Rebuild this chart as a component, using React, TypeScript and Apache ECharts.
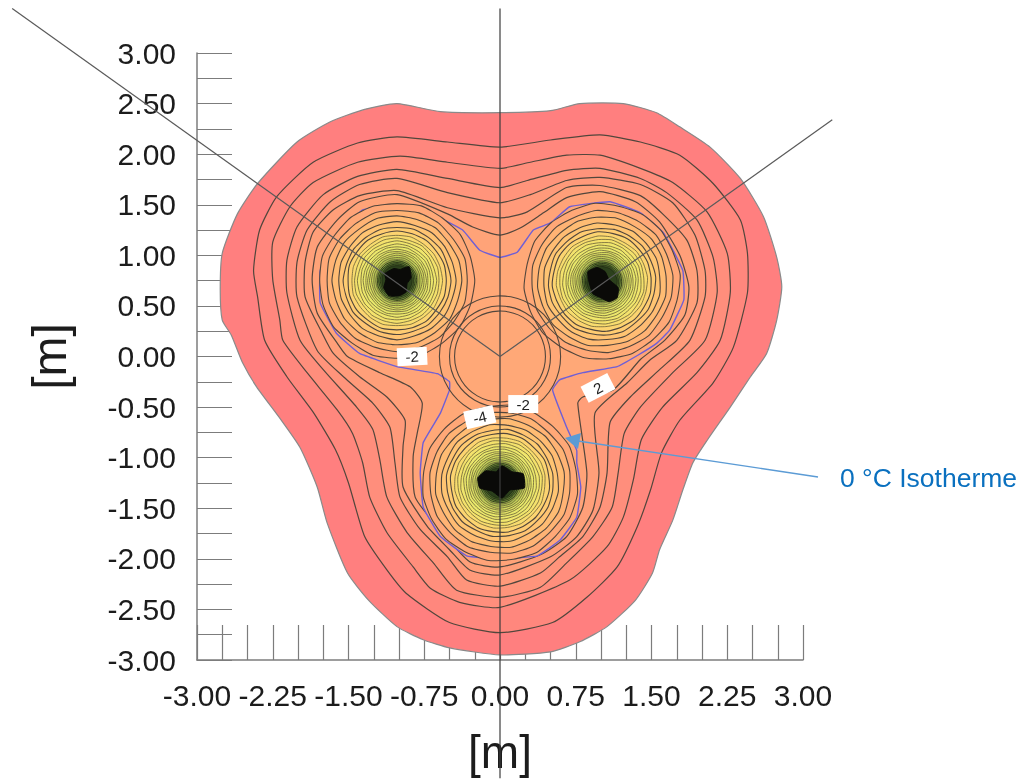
import React, { useEffect, useRef } from "react";
import * as echarts from "echarts";

type P = number[];

// Tick labels that are printed; the axes tick every 0.25 m
const xTickLabels = ["-3.00", "-2.25", "-1.50", "-0.75", "0.00", "0.75", "1.50", "2.25", "3.00"];
const yTickLabels = ["-3.00", "-2.50", "-2.00", "-1.50", "-1.00", "-0.50", "0.00", "0.50", "1.00", "1.50", "2.00", "2.50", "3.00"];

// Merged contours in metres, outermost first
const contour0: P[] = [[0,2.41],[0.5,2.43],[0.79,2.5],[1.22,2.5],[1.55,2.41],[1.78,2.27],[2.08,2.07],[2.38,1.76],[2.61,1.38],[2.74,0.98],[2.79,0.69],[2.74,0.36],[2.64,0.03],[2.48,-0.2],[2.28,-0.5],[2.05,-0.83],[1.91,-1.05],[1.81,-1.32],[1.71,-1.62],[1.58,-1.91],[1.51,-2.14],[1.34,-2.41],[1.06,-2.67],[0.79,-2.82],[0.5,-2.92],[0,-2.95],[-0.5,-2.88],[-0.76,-2.8],[-1.02,-2.67],[-1.3,-2.41],[-1.51,-2.14],[-1.71,-1.65],[-1.81,-1.29],[-1.98,-0.9],[-2.18,-0.61],[-2.41,-0.3],[-2.55,-0.06],[-2.66,0.21],[-2.75,0.36],[-2.77,0.66],[-2.75,1.02],[-2.6,1.41],[-2.4,1.71],[-2.01,2.12],[-1.68,2.32],[-1.35,2.44],[-1.02,2.5],[-0.59,2.42]];
const contour1: P[] = [[0,2.07],[0.5,2.14],[0.99,2.19],[1.39,2.12],[1.78,1.99],[2.11,1.71],[2.38,1.35],[2.45,1.02],[2.45,0.63],[2.31,0.09],[2.11,-0.26],[1.78,-0.63],[1.6,-0.95],[1.49,-1.32],[1.36,-1.68],[1.16,-2.08],[0.86,-2.38],[0.52,-2.63],[0,-2.73],[-0.5,-2.63],[-0.93,-2.34],[-1.12,-2.11],[-1.34,-1.78],[-1.5,-1.25],[-1.63,-0.92],[-1.85,-0.55],[-2.11,-0.2],[-2.33,0.16],[-2.4,0.59],[-2.44,0.85],[-2.38,1.25],[-2.21,1.58],[-1.85,1.92],[-1.41,2.11],[-1.02,2.17],[-0.52,2.12]];
const contour2: P[] = [[0,1.86],[0.3,1.92],[0.66,1.99],[0.99,1.99],[1.39,1.86],[1.71,1.72],[2.05,1.43],[2.25,1.02],[2.28,0.63],[2.18,0.16],[1.95,-0.16],[1.61,-0.5],[1.4,-0.82],[1.32,-1.22],[1.22,-1.59],[1.06,-1.88],[0.69,-2.21],[0,-2.48],[-0.4,-2.43],[-0.69,-2.29],[-0.86,-2.08],[-1.12,-1.74],[-1.29,-1.39],[-1.36,-1.05],[-1.46,-0.76],[-1.61,-0.53],[-1.91,-0.16],[-2.15,0.16],[-2.18,0.36],[-2.25,0.76],[-2.25,1.13],[-2.08,1.48],[-1.85,1.72],[-1.41,1.92],[-0.99,1.98],[-0.52,1.92]];
const contour3: P[] = [[0,1.67],[0.27,1.74],[0.66,1.84],[0.99,1.86],[1.39,1.76],[1.65,1.62],[1.95,1.35],[2.11,0.98],[2.15,0.63],[2.03,0.16],[1.71,-0.16],[1.39,-0.5],[1.23,-0.76],[1.17,-1.15],[1.11,-1.49],[0.92,-1.78],[0.66,-2.04],[0.4,-2.28],[0,-2.38],[-0.43,-2.31],[-0.66,-2.04],[-0.92,-1.74],[-1.12,-1.39],[-1.19,-1.02],[-1.26,-0.72],[-1.42,-0.5],[-1.75,-0.13],[-1.98,0.16],[-2.11,0.63],[-2.11,0.95],[-2.01,1.28],[-1.75,1.6],[-1.41,1.78],[-1.02,1.85],[-0.52,1.76]];
const contour4: P[] = [[0,1.52],[0.3,1.6],[0.66,1.74],[0.99,1.77],[1.39,1.7],[1.71,1.52],[1.93,1.2],[2.03,0.85],[2.03,0.59],[1.88,0.16],[1.58,-0.13],[1.29,-0.4],[1.09,-0.65],[1.06,-1.15],[0.99,-1.49],[0.82,-1.78],[0.59,-1.98],[0.4,-2.14],[0,-2.27],[-0.33,-2.21],[-0.52,-1.98],[-0.79,-1.71],[-0.99,-1.39],[-1.04,-1.05],[-1.09,-0.7],[-1.26,-0.46],[-1.55,-0.2],[-1.81,0.06],[-2.01,0.59],[-2.01,0.93],[-1.91,1.25],[-1.68,1.53],[-1.39,1.7],[-1.02,1.76],[-0.52,1.62]];
const contour5: P[] = [[0,1.37],[0.27,1.43],[0.66,1.67],[0.99,1.69],[1.39,1.59],[1.61,1.41],[1.85,1.15],[1.95,0.85],[1.95,0.53],[1.75,0.16],[1.49,-0.03],[1.26,-0.26],[0.94,-0.56],[0.98,-1.15],[0.92,-1.52],[0.76,-1.78],[0.5,-1.98],[0,-2.16],[-0.3,-2.11],[-0.5,-1.91],[-0.72,-1.68],[-0.96,-1.29],[-0.96,-0.89],[-0.94,-0.63],[-1.12,-0.4],[-1.39,-0.2],[-1.65,0.03],[-1.76,0.23],[-1.93,0.59],[-1.93,0.93],[-1.85,1.23],[-1.65,1.45],[-1.39,1.59],[-1.02,1.64],[-0.52,1.47]];
const contour6: P[] = [[0,1.2],[0.2,1.27],[0.43,1.42],[0.66,1.57],[0.99,1.63],[1.34,1.53],[1.58,1.33],[1.78,1.0],[1.87,0.69],[1.83,0.41],[1.63,0.16],[1.39,-0.03],[1.12,-0.33],[0.82,-0.4],[0.77,-0.46],[0.86,-1.15],[0.82,-1.49],[0.66,-1.78],[0.4,-1.96],[0,-2.08],[-0.3,-2.03],[-0.62,-1.68],[-0.84,-1.39],[-0.86,-0.99],[-0.82,-0.76],[-0.77,-0.46],[-0.89,-0.3],[-1.19,-0.16],[-1.51,0],[-1.61,0.13],[-1.81,0.43],[-1.86,0.76],[-1.81,1.08],[-1.61,1.35],[-1.39,1.53],[-1.02,1.6],[-0.52,1.41],[-0.27,1.28]];
const isotherm0: P[] = [[0,0.98],[0.17,1.03],[0.33,1.25],[0.5,1.32],[0.69,1.48],[1.09,1.53],[1.39,1.42],[1.62,1.22],[1.81,0.85],[1.82,0.56],[1.68,0.26],[1.55,0.13],[1.36,0.01],[1.16,-0.1],[0.82,-0.16],[0.59,-0.23],[0.52,-0.33],[0.66,-0.7],[0.76,-0.93],[0.76,-1.05],[0.8,-1.29],[0.76,-1.59],[0.59,-1.82],[0.37,-1.97],[0,-2.0],[-0.33,-1.97],[-0.59,-1.78],[-0.76,-1.49],[-0.79,-1.15],[-0.76,-0.85],[-0.59,-0.56],[-0.5,-0.33],[-0.5,-0.25],[-0.62,-0.17],[-1.02,-0.1],[-1.39,0.03],[-1.62,0.23],[-1.78,0.53],[-1.78,0.85],[-1.62,1.18],[-1.36,1.45],[-1.02,1.5],[-0.66,1.4],[-0.37,1.25],[-0.2,1.05]];

// The three wells and the contour radii around each of them, in metres
const wellCentres: P[] = [[-1.02, 0.75], [1.01, 0.74], [0, -1.25]];
const wellRadii = [0.77, 0.7, 0.64, 0.58, 0.53, 0.49, 0.45, 0.42, 0.39, 0.36, 0.335, 0.31, 0.29, 0.27, 0.25, 0.23, 0.21, 0.195, 0.18, 0.165, 0.15];
const wellCoreLeft: P[] = [[-1.15,0.68],[-1.13,0.76],[-1.14,0.82],[-1.05,0.87],[-0.99,0.86],[-0.9,0.89],[-0.88,0.78],[-0.92,0.72],[-0.93,0.64],[-1.0,0.6],[-1.1,0.6]];
const wellCoreRight: P[] = [[0.87,0.84],[0.96,0.88],[1.04,0.84],[1.08,0.76],[1.17,0.68],[1.16,0.58],[1.08,0.54],[1.0,0.58],[0.92,0.62],[0.88,0.74]];
const wellCoreBottom: P[] = [[-0.22,-1.2],[-0.14,-1.13],[-0.04,-1.14],[0.02,-1.08],[0.12,-1.14],[0.23,-1.16],[0.24,-1.3],[0.1,-1.32],[0.02,-1.4],[-0.08,-1.33],[-0.2,-1.3]];

// Circles round the centre, radii in metres
const centreRadii = [0.6, 0.5, 0.45];

// Lines of the section
const guideUp: P[] = [[0, 3.44], [0, -4.17]];
const guideLeft: P[] = [[0, 0], [-4.83, 3.44]];
const guideRight: P[] = [[0, 0], [3.29, 2.34]];

// Contour value labels
const labelText = ["-2", "-4", "-2", "2"];
const labelX = [-0.87, -0.2, 0.23, 0.97];
const labelY = [0, -0.6, -0.47, -0.31];
const labelTilt = [3, 13, 0, 27];

const bandFills = ["#FF7F7F", "#FF877D", "#FF8E7C", "#FF947B", "#FF9A7A", "#FF9F79", "#FFA378", "#FFA877"];
const wellFills = ["#FFA877", "#FFB374", "#FFBC73", "#FFC472", "#FFCC71", "#FCD470", "#F8DC6E", "#F4E26C", "#F0E66C", "#ECE86C", "#E8E86A", "#E4E668", "#DCE264", "#D2DA5E", "#C2D058", "#ACBE50", "#94A848", "#78903E", "#5C7634", "#445C28", "#2C401C"];
// Slight polygonal unevenness of the drawn rings
const ringShape = [1, 0.985, 1.01, 0.99, 1.015, 0.98, 1.005, 1.01, 0.985, 1.015, 0.99, 1, 1.015, 0.98, 1.01, 0.995, 1.01, 0.985, 1.005, 0.99];
const LINE = "#52463c";
const FONT = "'Liberation Sans', Arial, sans-serif";

function polygonSeries(points: P[], fill: string, stroke: string, lineWidth: number, smooth: number) {
  return {
    type: "custom",
    coordinateSystem: "cartesian2d",
    clip: false,
    silent: true,
    encode: { x: 0, y: 1 },
    data: points,
    renderItem: (params: any, api: any) =>
      params.dataIndex === 0
        ? {
            type: "polygon",
            shape: { points: points.map((q) => api.coord(q)), smooth },
            style: { fill, stroke, lineWidth },
          }
        : null,
  };
}

function ringRows(): number[][] {
  const rows: number[][] = [];
  wellCentres.forEach((c, w) => wellRadii.forEach((r, i) => rows.push([c[0], c[1], r, i, w])));
  return rows;
}

function guideSeries(points: P[], color: string) {
  return {
    type: "custom",
    coordinateSystem: "cartesian2d",
    clip: false,
    silent: true,
    encode: { x: 0, y: 1 },
    data: points,
    z: 6,
    renderItem: (params: any, api: any) => {
      if (params.dataIndex !== 0) return null;
      const a = api.coord(points[0]);
      const b = api.coord(points[1]);
      return {
        type: "line",
        shape: { x1: a[0], y1: a[1], x2: b[0], y2: b[1] },
        style: { stroke: color, lineWidth: 1.2 },
      };
    },
  };
}

export default function App() {
  const ref = useRef<HTMLDivElement>(null);
  useEffect(() => {
    const chart = echarts.init(ref.current!, undefined, { renderer: "svg" });
    const contours = [contour0, contour1, contour2, contour3, contour4, contour5, contour6];
    const series: any[] = contours.map((c, i) =>
      polygonSeries(c, bandFills[i], i === 0 ? "#8a8a8a" : LINE, 1.2, 0.2)
    );
    series.push(polygonSeries(isotherm0, bandFills[7], "#6f5fd6", 1.4, 0.1));
    series.push({
      type: "custom",
      coordinateSystem: "cartesian2d",
      clip: false,
      silent: true,
      encode: { x: 0, y: 1 },
      data: ringRows(),
      renderItem: (_: any, api: any) => {
        const cx = api.value(0);
        const cy = api.value(1);
        const r = api.value(2);
        const i = api.value(3);
        const w = api.value(4);
        const n = ringShape.length;
        const pts = ringShape.map((_f, k) => {
          const a = (k / n) * Math.PI * 2 + w * 0.4;
          const f = 1 + (ringShape[(k + i * 3 + w * 5) % n] - 1) * 0.6;
          return api.coord([cx + r * f * Math.cos(a), cy + r * f * Math.sin(a)]);
        });
        return {
          type: "polygon",
          shape: { points: pts, smooth: 0.2 },
          style: {
            fill: wellFills[i],
            stroke: i > 16 ? "#1f2a12" : i > 5 ? "#6a6038" : LINE,
            lineWidth: i > 5 ? 0.8 : 1.1,
          },
        };
      },
    });
    [wellCoreLeft, wellCoreRight, wellCoreBottom].forEach((c) =>
      series.push(polygonSeries(c, "#0a0a08", "#0a0a08", 1, 0.15))
    );
    series.push({
      type: "custom",
      coordinateSystem: "cartesian2d",
      clip: false,
      silent: true,
      encode: { x: 0, y: 1 },
      data: centreRadii.map((r) => [0, 0, r]),
      renderItem: (_: any, api: any) => {
        const c = api.coord([api.value(0), api.value(1)]);
        const s = api.size([api.value(2), api.value(2)]);
        return {
          type: "circle",
          shape: { cx: c[0], cy: c[1], r: s[0] },
          style: { fill: "none", stroke: LINE, lineWidth: 1.1 },
        };
      },
      z: 4,
    });
    series.push(guideSeries(guideUp, "#3c3c3c"));
    series.push(guideSeries(guideLeft, "#5a5a5a"));
    series.push(guideSeries(guideRight, "#5a5a5a"));
    series.push({
      type: "custom",
      coordinateSystem: "cartesian2d",
      clip: false,
      silent: true,
      encode: { x: 0, y: 1 },
      data: labelText.map((_t, i) => [labelX[i], labelY[i], i]),
      z: 8,
      renderItem: (_: any, api: any) => {
        const c = api.coord([api.value(0), api.value(1)]);
        const i = api.value(2);
        return {
          type: "group",
          x: c[0],
          y: c[1],
          rotation: (labelTilt[i] * Math.PI) / 180,
          children: [
            { type: "rect", shape: { x: -15, y: -9, width: 30, height: 18 }, style: { fill: "#ffffff" } },
            {
              type: "text",
              style: {
                text: labelText[i],
                x: 0,
                y: 0,
                align: "center",
                verticalAlign: "middle",
                fontSize: 15,
                fontFamily: FONT,
                fill: "#222222",
              },
            },
          ],
        };
      },
    });

    chart.setOption({
      animation: false,
      backgroundColor: "#ffffff",
      grid: { left: 197, right: 216, top: 53, bottom: 120, containLabel: false, outerBoundsMode: "none" },
      xAxis: {
        type: "value",
        min: -3,
        max: 3,
        interval: 0.25,
        name: "[m]",
        nameLocation: "middle",
        nameGap: 69,
        nameTextStyle: { fontSize: 46, fontFamily: FONT, color: "#1c1c1c" },
        splitLine: { show: false },
        axisLine: { show: true, onZero: false, lineStyle: { color: "#7c7c7c", width: 1.5 } },
        axisTick: { show: true, inside: true, length: 35, lineStyle: { color: "#7c7c7c", width: 1.2 } },
        axisLabel: {
          margin: 20,
          fontSize: 30,
          fontFamily: FONT,
          color: "#1c1c1c",
          formatter: (v: number) => (xTickLabels.includes(v.toFixed(2)) ? v.toFixed(2) : ""),
        },
      },
      yAxis: {
        type: "value",
        min: -3,
        max: 3,
        interval: 0.25,
        name: "[m]",
        nameLocation: "middle",
        nameGap: 124,
        nameTextStyle: { fontSize: 48, fontFamily: FONT, color: "#1c1c1c" },
        splitLine: { show: false },
        axisLine: { show: true, onZero: false, lineStyle: { color: "#7c7c7c", width: 1.5 } },
        axisTick: { show: true, inside: true, length: 35, lineStyle: { color: "#7c7c7c", width: 1.2 } },
        axisLabel: {
          margin: 21,
          fontSize: 30,
          fontFamily: FONT,
          color: "#1c1c1c",
          formatter: (v: number) => (yTickLabels.includes(v.toFixed(2)) ? v.toFixed(2) : ""),
        },
      },
      series,
      graphic: [
        {
          type: "line",
          z: 20,
          shape: { x1: 818, y1: 477, x2: 578, y2: 441 },
          style: { stroke: "#5b9bd5", lineWidth: 1.3 },
        },
        {
          type: "polygon",
          z: 20,
          shape: { points: [[565, 438], [581, 433], [578, 449]] },
          style: { fill: "#5b9bd5" },
        },
        {
          type: "text",
          z: 20,
          x: 840,
          y: 478,
          style: {
            text: "0 °C Isotherme",
            fontSize: 26.5,
            fontFamily: FONT,
            fill: "#0a70bf",
            verticalAlign: "middle",
          },
        },
      ],
    });
    return () => chart.dispose();
  }, []);
  return (
    <div
      ref={ref}
      style={{ position: "fixed", left: 0, top: 0, width: 1019, height: 780, background: "#fff", filter: "blur(0.4px)" }}
    />
  );
}
